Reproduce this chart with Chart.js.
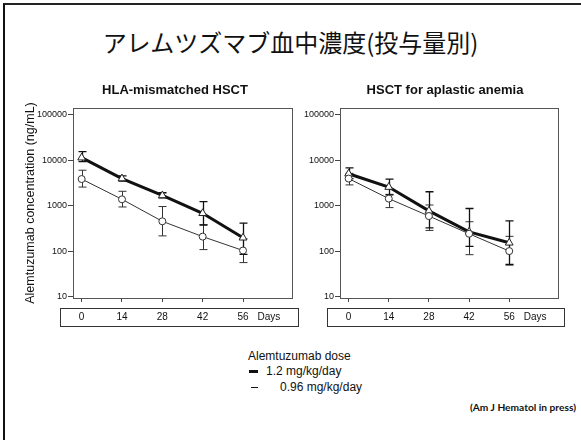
<!DOCTYPE html>
<html>
<head>
<meta charset="utf-8">
<script src="https://cdn.jsdelivr.net/npm/chart.js@4.4.0/dist/chart.umd.min.js"></script>
<style>
  body { margin: 0; width: 581px; height: 440px; overflow: hidden; background: #fff; position: relative; font-family: Arial, "Liberation Sans", sans-serif; color: #111; }
  .frame { position: absolute; left: 3px; top: 3px; width: 620px; height: 480px; border-left: 2px solid #111; border-top: 2px solid #222; }
  h1 { position: absolute; left: 0; top: 25px; width: 581px; margin: 0; text-align: center; font: normal 24px "Noto Sans CJK JP", sans-serif; line-height: 34px; }
  .panel { position: absolute; top: 80px; height: 260px; }
  #legend { position: absolute; left: 248px; top: 349px; font-size: 12px; line-height: 15px; }
  #legend .row { position: relative; height: 15px; }
  #legend .dash { display: inline-block; width: 9px; background: #111; vertical-align: middle; margin-right: 8px; }
  #cite { position: absolute; right: 5px; top: 401px; font: bold 10.2px Lato, "Open Sans", sans-serif; }
</style>
</head>
<body>
<div class="frame"></div>
<h1>アレムツズマブ血中濃度(投与量別)</h1>
<div class="panel" style="left:0;width:350px"><canvas id="hla" width="350" height="260"></canvas></div>
<div class="panel" style="left:300px;width:290px"><canvas id="aa" width="290" height="260"></canvas></div>
<div id="legend"></div>
<div id="cite">(Am J Hematol in press)</div>
<script>
const days = [0, 14, 28, 42, 56];
const yTicks = [10, 100, 1000, 10000, 100000];
const doseLabels = ['1.2 mg/kg/day', '0.96 mg/kg/day'];

// HLA-mismatched HSCT
const hlaHigh = [11500, 4000, 1700, 690, 200];
const hlaHighUp = [15600, 4600, 1950, 1250, 420];
const hlaHighLo = [9400, 3500, 1500, 380, 86];
const hlaLow = [3900, 1400, 460, 212, 105];
const hlaLowUp = [6100, 2100, 970, 390, 190];
const hlaLowLo = [2600, 950, 220, 110, 57];

// HSCT for aplastic anemia
const aaHigh = [5100, 2600, 780, 270, 155];
const aaHighUp = [6900, 3900, 2050, 880, 470];
const aaHighLo = [4000, 1750, 330, 130, 52];
const aaLow = [4000, 1450, 600, 245, 102];
const aaLowUp = [5200, 1800, 1050, 450, 215];
const aaLowLo = [2900, 920, 290, 85, 50];

const daysAt = 65;

// legend
const leg = document.getElementById('legend');
leg.innerHTML = '<div class="row">Alemtuzumab dose</div>' +
  '<div class="row" style="left:1px"><span class="dash" style="height:3px"></span>' + doseLabels[0] + '</div>' +
  '<div class="row" style="left:3px;margin-top:1px"><span class="dash" style="height:1px;width:7px;margin-right:22px"></span>' + doseLabels[1] + '</div>';

const frameAndErrors = {
  id: 'frameAndErrors',
  beforeDatasetsDraw(chart) {
    const { ctx, chartArea: a, scales: { x, y } } = chart;
    ctx.save();
    ctx.strokeStyle = '#555';
    ctx.lineWidth = 1;
    ctx.strokeRect(a.left + 0.5, a.top + 0.5, a.right - a.left, a.bottom - a.top);
    // day box under the plot
    ctx.strokeStyle = '#333';
    ctx.strokeRect(a.left - 13 + 0.5, a.bottom + 10 + 0.5, a.right - a.left + 19, 18);
    chart.data.datasets.forEach(ds => {
      ctx.strokeStyle = ds.borderColor;
      ctx.lineWidth = ds.errWidth;
      ds.data.forEach((p, j) => {
        const px = Math.round(x.getPixelForValue(p.x)) + 0.5;
        const t = y.getPixelForValue(ds.errUp[j]);
        const b = y.getPixelForValue(ds.errLo[j]);
        ctx.beginPath();
        ctx.moveTo(px, t); ctx.lineTo(px, b);
        ctx.moveTo(px - 4, t); ctx.lineTo(px + 4, t);
        ctx.moveTo(px - 4, b); ctx.lineTo(px + 4, b);
        ctx.stroke();
      });
    });
    ctx.restore();
  }
};

function makePanel(id, title, high, highUp, highLo, low, lowUp, lowLo, yWidth, rightGap, showYTitle) {
  return new Chart(document.getElementById(id), {
    type: 'line',
    data: {
      datasets: [{
        label: doseLabels[1],
        data: days.map((d, i) => ({ x: d, y: low[i] })),
        errUp: lowUp, errLo: lowLo, errWidth: 1,
        borderColor: '#333', borderWidth: 1,
        pointStyle: 'circle', pointRadius: 3.5,
        pointBackgroundColor: '#fff', pointBorderColor: '#333', pointBorderWidth: 1
      }, {
        label: doseLabels[0],
        data: days.map((d, i) => ({ x: d, y: high[i] })),
        errUp: highUp, errLo: highLo, errWidth: 1.3,
        borderColor: '#111', borderWidth: 3,
        pointStyle: 'triangle', pointRadius: 4.5,
        pointBackgroundColor: '#fff', pointBorderColor: '#222', pointBorderWidth: 1
      }]
    },
    options: {
      responsive: false,
      animation: false,
      layout: { padding: 0 },
      plugins: {
        legend: { display: false },
        tooltip: { enabled: false },
        title: {
          display: true, text: title, color: '#111',
          font: { family: 'Arial', size: 13, weight: 'bold' },
          padding: { top: 3, bottom: 9.4 }
        }
      },
      scales: {
        x: {
          type: 'linear', min: -3, max: 73,
          afterBuildTicks: s => { s.ticks = days.concat([daysAt]).map(v => ({ value: v })); },
          afterFit: s => { s.height = 42; },
          border: { display: false },
          grid: {
            drawOnChartArea: false, drawTicks: true, tickLength: 4,
            color: c => (c.tick && c.tick.value === daysAt) ? 'rgba(0,0,0,0)' : '#444'
          },
          ticks: {
            color: '#111', padding: 9, maxRotation: 0, autoSkip: false,
            font: { family: 'Arial', size: 10 },
            callback: v => v === daysAt ? 'Days' : String(v)
          }
        },
        y: {
          type: 'logarithmic', min: 9.5, max: 142000,
          afterBuildTicks: s => { s.ticks = yTicks.map(v => ({ value: v })); },
          afterFit: s => { s.width = yWidth; },
          border: { display: false },
          grid: { drawOnChartArea: false, drawTicks: true, tickLength: 5, color: '#444' },
          ticks: {
            color: '#111', padding: 1, autoSkip: false,
            font: { family: 'Arial', size: 9 },
            callback: v => String(v)
          },
          title: {
            display: showYTitle, text: 'Alemtuzumab concentration (ng/mL)', color: '#111',
            font: { family: 'Arial', size: 12.5 },
            padding: { top: 23, bottom: 0 }
          }
        },
        // empty right-hand axis, only reserves space so the panel title centres over the plot
        gap: {
          type: 'linear', position: 'right', display: true,
          afterFit: s => { s.width = rightGap; },
          border: { display: false },
          grid: { display: false },
          ticks: { display: false }
        }
      }
    },
    plugins: [frameAndErrors]
  });
}

makePanel('hla', 'HLA-mismatched HSCT', hlaHigh, hlaHighUp, hlaHighLo, hlaLow, hlaLowUp, hlaLowLo, 73, 58, true);
makePanel('aa', 'HSCT for aplastic anemia', aaHigh, aaHighUp, aaHighLo, aaLow, aaLowUp, aaLowLo, 40, 32, false);
</script>
</body>
</html>
